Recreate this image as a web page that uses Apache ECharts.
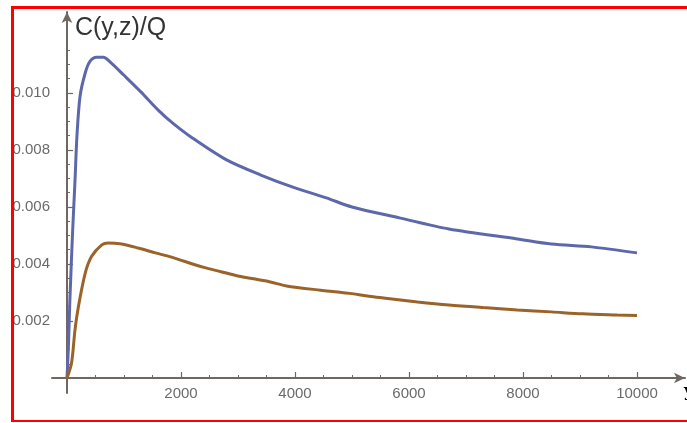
<!DOCTYPE html>
<html>
<head>
<meta charset="utf-8">
<script src="https://cdn.jsdelivr.net/npm/echarts@6/dist/echarts.min.js"></script>
<style>
html,body{margin:0;padding:0;background:#fff;overflow:hidden;}
#chart{position:absolute;left:0;top:0;width:687px;height:423px;}
#frame{position:absolute;left:11px;top:6px;width:800px;height:411px;border-left:3px solid #f00;border-top:3px solid #f00;border-bottom:2px solid #f00;pointer-events:none;}
</style>
</head>
<body>
<div id="chart"></div>
<div id="frame"></div>
<script>
// Blue curve (upper)
const blueX = [0, 25, 50, 100, 140, 175, 230, 320, 400, 520, 640, 750, 1000, 1300, 1600, 1850, 2200, 2800, 3400, 4000, 4550, 5000, 5850, 6700, 7900, 8500, 9200, 10000];
const blueY = [0, 0.0011, 0.0027, 0.0052, 0.0069, 0.0085, 0.0099, 0.0107, 0.0111, 0.01125, 0.01125, 0.0111, 0.01062, 0.01003, 0.0094, 0.00895, 0.00842, 0.00765, 0.00712, 0.00667, 0.00632, 0.0060, 0.00561, 0.00523, 0.00488, 0.0047, 0.0046, 0.00439];
// Brown curve (lower)
const brownX = [0, 80, 140, 200, 320, 430, 610, 720, 960, 1250, 1550, 1800, 2400, 2700, 3000, 3550, 3850, 4450, 4750, 5000, 5300, 5550, 6150, 6700, 7300, 7900, 8500, 9050, 9650, 10000];
const brownY = [0, 0.00053, 0.00168, 0.0025, 0.00368, 0.00426, 0.00467, 0.00474, 0.0047, 0.00456, 0.00439, 0.00426, 0.00388, 0.00373, 0.00358, 0.00338, 0.00323, 0.00308, 0.00302, 0.00296, 0.00287, 0.00281, 0.00267, 0.00256, 0.00247, 0.00239, 0.00232, 0.00225, 0.00221, 0.00219];
// Ticks
const xMajor = [2000, 4000, 6000, 8000, 10000];
const xMinor = [500, 1000, 1500, 2500, 3000, 3500, 4500, 5000, 5500, 6500, 7000, 7500, 8500, 9000, 9500];
const yMajor = [0.002, 0.004, 0.006, 0.008, 0.010];
const yMinor = [0.0005, 0.001, 0.0015, 0.0025, 0.003, 0.0035, 0.0045, 0.005, 0.0055, 0.0065, 0.007, 0.0075, 0.0085, 0.009, 0.0095, 0.0105, 0.011, 0.0115];
const yTitle = 'C(y,z)/Q';
const xTitle = 'y';

const X_MIN = -263, X_MAX = 10842, Y_MIN = -0.000526, Y_MAX = 0.01284;
const axisCol = '#6f6762';
const labelCol = '#6a6a6a';
const font = 'Liberation Sans, Arial, sans-serif';

function pairs(xs, ys) { return xs.map((x, i) => [x, ys[i]]); }

const chart = echarts.init(document.getElementById('chart'), null, {renderer: 'canvas'});
chart.setOption({
  animation: false,
  backgroundColor: '#ffffff',
  grid: {left: 52, right: 2, top: 12, bottom: 30, containLabel: false, outerBoundsMode: 'none'},
  xAxis: [{
    type: 'value', min: X_MIN, max: X_MAX, position: 'bottom',
    name: xTitle, nameLocation: 'end', nameGap: -1,
    nameTextStyle: {fontFamily: 'DejaVu Serif, serif', fontWeight: 'bold', fontSize: 17, color: '#000', align: 'left', verticalAlign: 'top', padding: [5, 0, 0, 0]},
    axisLine: {show: true, onZero: true, symbol: ['none', 'arrow'], symbolSize: [8, 11], lineStyle: {color: axisCol, width: 2}},
    axisTick: {show: true, inside: true, length: 6, customValues: xMajor, lineStyle: {color: axisCol, width: 1.2}},
    axisLabel: {show: true, customValues: xMajor, margin: -7, fontSize: 15, color: labelCol, fontFamily: font, formatter: v => String(v)},
    splitLine: {show: false}
  }, {
    type: 'value', min: X_MIN, max: X_MAX, position: 'bottom',
    axisLine: {show: false, onZero: true, onZeroAxisIndex: 0},
    axisTick: {show: true, inside: true, length: 3, customValues: xMinor, lineStyle: {color: axisCol, width: 1}},
    axisLabel: {show: false},
    splitLine: {show: false}
  }],
  yAxis: [{
    type: 'value', min: Y_MIN, max: Y_MAX, position: 'left',
    name: yTitle, nameLocation: 'end', nameGap: -16,
    nameTextStyle: {fontFamily: font, fontSize: 25, color: '#333', align: 'left', verticalAlign: 'middle', padding: [0, 0, 0, 8]},
    axisLine: {show: true, onZero: true, symbol: ['none', 'arrow'], symbolSize: [8, 11], lineStyle: {color: axisCol, width: 2}},
    axisTick: {show: true, inside: true, length: 6, customValues: yMajor, lineStyle: {color: axisCol, width: 1.2}},
    axisLabel: {show: true, customValues: yMajor, margin: 2, fontSize: 15, color: labelCol, fontFamily: font, formatter: v => v.toFixed(3)},
    splitLine: {show: false}
  }, {
    type: 'value', min: Y_MIN, max: Y_MAX, position: 'left',
    axisLine: {show: false, onZero: true, onZeroAxisIndex: 0},
    axisTick: {show: true, inside: true, length: 3, customValues: yMinor, lineStyle: {color: axisCol, width: 1}},
    axisLabel: {show: false},
    splitLine: {show: false}
  }],
  series: [{
    type: 'line', xAxisIndex: 0, yAxisIndex: 0, data: pairs(blueX, blueY),
    showSymbol: false, smooth: 0.3, lineStyle: {color: '#5d68ab', width: 3}, z: 3
  }, {
    type: 'line', xAxisIndex: 0, yAxisIndex: 0, data: pairs(brownX, brownY),
    showSymbol: false, smooth: 0.3, lineStyle: {color: '#9a6329', width: 3}, z: 3
  }]
});
</script>
</body>
</html>
